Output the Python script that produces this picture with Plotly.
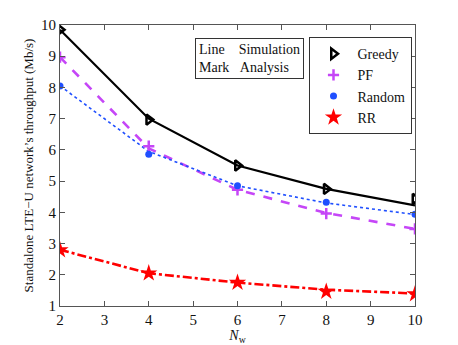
import plotly.graph_objects as go

nw = [2, 4, 6, 8, 10]

# analysis (lines)
greedy_line = [9.85, 7.0, 5.5, 4.75, 4.22]
pf_line = [8.97, 6.05, 4.72, 3.98, 3.47]
random_line = [8.05, 5.95, 4.85, 4.3, 3.93]
rr_line = [2.8, 2.05, 1.75, 1.52, 1.4]

# simulation (marks)
greedy_sim = [9.85, 6.97, 5.5, 4.75, 4.43]
pf_sim = [8.97, 6.12, 4.72, 3.96, 3.47]
random_sim = [8.05, 5.86, 4.85, 4.32, 3.94]
rr_sim = [2.79, 2.05, 1.75, 1.46, 1.38]

names = ["Greedy", "PF", "Random", "RR"]
colors = ["#000000", "#C546F7", "#1F4FFF", "#FF0000"]
dashes = ["solid", "dash", "dot", "dashdot"]
widths = [2.2, 2.6, 1.6, 2.6]
symbols = ["triangle-right-open", "cross-thin-open", "circle", "star"]
msizes = [9, 8, 7, 13]

lines = [greedy_line, pf_line, random_line, rr_line]
sims = [greedy_sim, pf_sim, random_sim, rr_sim]

SERIF = "Times New Roman, Liberation Serif, serif"

fig = go.Figure()
for i in range(4):
    fig.add_trace(go.Scatter(
        x=nw, y=lines[i], mode="lines", showlegend=False,
        line=dict(color=colors[i], dash=dashes[i], width=widths[i])))
for i in range(4):
    fig.add_trace(go.Scatter(
        x=nw, y=sims[i], mode="markers", name=names[i],
        marker=dict(symbol=symbols[i], color=colors[i], size=msizes[i],
                    line=dict(color=colors[i], width=2.5 if i < 2 else 0))))

fig.add_annotation(
    x=0.534, y=0.881, xref="paper", yref="paper",
    xanchor="center", yanchor="middle",
    text="Line&nbsp;&nbsp;&nbsp;&nbsp;Simulation<br>Mark&nbsp;&nbsp;&nbsp;Analysis",
    showarrow=False, align="left", bordercolor="#333", borderwidth=1,
    borderpad=3, bgcolor="white",
    font=dict(family=SERIF, size=14, color="#111"))

axis_common = dict(
    showgrid=False, zeroline=False, showline=True, linecolor="#555",
    linewidth=1.2, mirror="ticks", ticks="inside", ticklen=5, automargin=False,
    tickcolor="#555", tickfont=dict(family=SERIF, size=15, color="#111"))

# page body adds an 8px offset, so margins are shifted to compensate
fig.update_layout(
    width=458, height=345,
    margin=dict(l=52, r=51, t=17, b=47),
    plot_bgcolor="white", paper_bgcolor="white",
    font=dict(family=SERIF, color="#111"),
    xaxis=dict(range=[2, 10], dtick=1,
               title=dict(text="<i>N</i><sub>w</sub>", font=dict(family=SERIF, size=14), standoff=2),
               **axis_common),
    yaxis=dict(range=[1, 10], dtick=1,
               title=dict(text="Standalone LTE\u2212U network\u2019s throughput (Mb/s)",
                          font=dict(family=SERIF, size=13), standoff=4),
               **axis_common),
    legend=dict(x=0.70, y=0.957, xanchor="left", yanchor="top",
                bordercolor="#333", borderwidth=1, bgcolor="white",
                font=dict(family=SERIF, size=14),
                itemwidth=38, tracegroupgap=0),
)

fig.write_html("out.html")
